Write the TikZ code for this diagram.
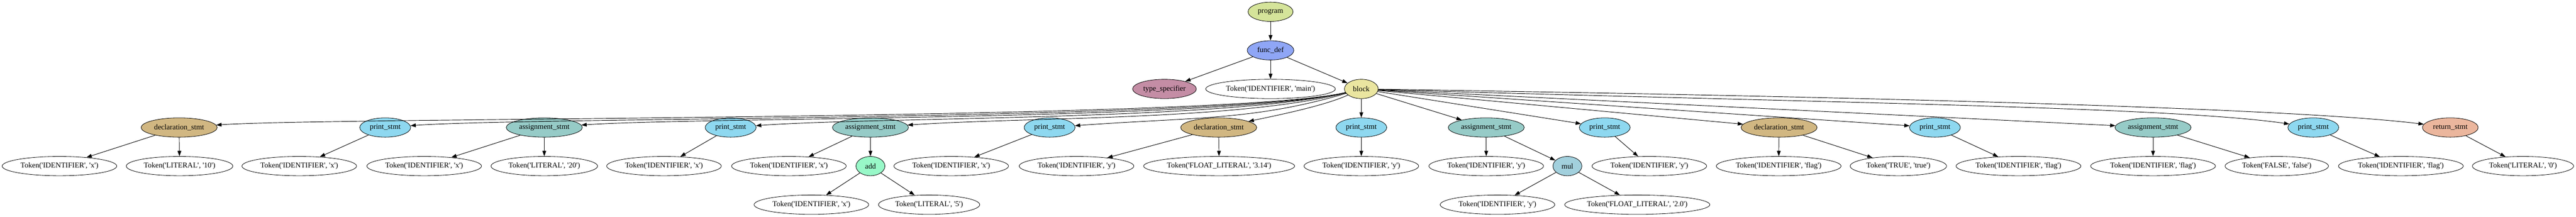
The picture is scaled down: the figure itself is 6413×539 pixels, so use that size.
\documentclass[tikz,border=0pt]{standalone}
\usepackage{fontspec}
\newfontfamily\gvfont{Liberation Serif}[Ligatures=TeXOff]
\usetikzlibrary{shapes.geometric,arrows.meta}
\definecolor{cProg}{HTML}{D5E49A}
\definecolor{cFunc}{HTML}{8FA6F6}
\definecolor{cType}{HTML}{C48DA5}
\definecolor{cBlock}{HTML}{EAE5A0}
\definecolor{cDecl}{HTML}{D1B782}
\definecolor{cPrint}{HTML}{8ED8F0}
\definecolor{cAssign}{HTML}{96CBC7}
\definecolor{cAdd}{HTML}{98F8C8}
\definecolor{cMul}{HTML}{A2D0DD}
\definecolor{cRet}{HTML}{EBB69D}
\newcommand\tx[1]{\makebox[0pt]{#1}}
\begin{document}
\begin{tikzpicture}[x=0.75pt,y=-0.75pt,
  nd/.style={ellipse,draw,line width=0.8pt,minimum height=36pt,inner sep=0pt,
    font=\gvfont\fontsize{14}{16}\selectfont,fill=white},
  tokid/.style={nd,minimum width=214pt},
  tokflag/.style={nd,minimum width=233pt},
  decl/.style={nd,minimum width=142pt,fill=cDecl},
  prt/.style={nd,minimum width=95pt,fill=cPrint},
  asg/.style={nd,minimum width=142pt,fill=cAssign},
  edge/.style={line width=0.9pt,-{Triangle[length=10pt,width=7pt]}}]
\useasboundingbox (0,0) rectangle (6413,539);
\def\ra{29.3}\def\rb{125.3}\def\rc{221.3}\def\rd{317.3}\def\re{413.3}\def\rf{509.3}
% row 0-2
\node[nd,minimum width=84pt,fill=cProg] (prog) at (3163,\ra) {\tx{program}};
\node[nd,minimum width=87pt,fill=cFunc] (fdef) at (3163,\rb) {\tx{func\_def}};
\node[nd,minimum width=119pt,fill=cType] (tspec) at (2899,\rc) {\tx{type\_specifier}};
\node[nd,minimum width=242pt] (tmain) at (3163,\rc) {\tx{Token('IDENTIFIER', 'main')}};
\node[nd,minimum width=63pt,fill=cBlock] (blk) at (3389,\rc) {\tx{block}};
% row 3
\node[decl] (d1) at (446,\rd) {\tx{declaration\_stmt}};
\node[prt] (p1) at (959,\rd) {\tx{print\_stmt}};
\node[asg] (a1) at (1355,\rd) {\tx{assignment\_stmt}};
\node[prt] (p2) at (1819,\rd) {\tx{print\_stmt}};
\node[asg] (a2) at (2167,\rd) {\tx{assignment\_stmt}};
\node[prt] (p3) at (2613,\rd) {\tx{print\_stmt}};
\node[decl] (d2) at (3034,\rd) {\tx{declaration\_stmt}};
\node[prt] (p4) at (3389,\rd) {\tx{print\_stmt}};
\node[asg] (a3) at (3700,\rd) {\tx{assignment\_stmt}};
\node[prt] (p5) at (3995,\rd) {\tx{print\_stmt}};
\node[decl] (d3) at (4429,\rd) {\tx{declaration\_stmt}};
\node[prt] (p6) at (4817,\rd) {\tx{print\_stmt}};
\node[asg] (a4) at (5360,\rd) {\tx{assignment\_stmt}};
\node[prt] (p7) at (5759,\rd) {\tx{print\_stmt}};
\node[nd,minimum width=104pt,fill=cRet] (ret) at (6100,\rd) {\tx{return\_stmt}};
% row 4
\node[tokid] (t1) at (148,\re) {\tx{Token('IDENTIFIER', 'x')}};
\node[nd,minimum width=199pt] (t2) at (447,\re) {\tx{Token('LITERAL', '10')}};
\node[tokid] (t3) at (745,\re) {\tx{Token('IDENTIFIER', 'x')}};
\node[tokid] (t4) at (1056,\re) {\tx{Token('IDENTIFIER', 'x')}};
\node[nd,minimum width=199pt] (t5) at (1355,\re) {\tx{Token('LITERAL', '20')}};
\node[tokid] (t6) at (1653,\re) {\tx{Token('IDENTIFIER', 'x')}};
\node[tokid] (t7) at (1964,\re) {\tx{Token('IDENTIFIER', 'x')}};
\node[nd,minimum width=54pt,fill=cAdd] (add) at (2167,\re) {\tx{add}};
\node[tokid] (t8) at (2368,\re) {\tx{Token('IDENTIFIER', 'x')}};
\node[tokid] (t9) at (2680,\re) {\tx{Token('IDENTIFIER', 'y')}};
\node[nd,minimum width=282pt] (t10) at (3035,\re) {\tx{Token('FLOAT\_LITERAL', '3.14')}};
\node[tokid] (t11) at (3389,\re) {\tx{Token('IDENTIFIER', 'y')}};
\node[tokid] (t12) at (3700,\re) {\tx{Token('IDENTIFIER', 'y')}};
\node[nd,minimum width=54pt,fill=cMul] (mul) at (3902,\re) {\tx{mul}};
\node[tokid] (t13) at (4106,\re) {\tx{Token('IDENTIFIER', 'y')}};
\node[tokflag] (t14) at (4428,\re) {\tx{Token('IDENTIFIER', 'flag')}};
\node[nd,minimum width=180pt] (t15) at (4726,\re) {\tx{Token('TRUE', 'true')}};
\node[tokflag] (t16) at (5025,\re) {\tx{Token('IDENTIFIER', 'flag')}};
\node[tokflag] (t17) at (5360,\re) {\tx{Token('IDENTIFIER', 'flag')}};
\node[nd,minimum width=193pt] (t18) at (5668,\re) {\tx{Token('FALSE', 'false')}};
\node[tokflag] (t19) at (5977,\re) {\tx{Token('IDENTIFIER', 'flag')}};
\node[nd,minimum width=189pt] (t20) at (6281,\re) {\tx{Token('LITERAL', '0')}};
% row 5
\node[tokid] (t21) at (2020,\rf) {\tx{Token('IDENTIFIER', 'x')}};
\node[nd,minimum width=189pt] (t22) at (2313,\rf) {\tx{Token('LITERAL', '5')}};
\node[tokid] (t23) at (3728,\rf) {\tx{Token('IDENTIFIER', 'y')}};
\node[nd,minimum width=271pt] (t24) at (4076,\rf) {\tx{Token('FLOAT\_LITERAL', '2.0')}};
% edges top
\draw[edge] (prog) -- (fdef);
\draw[edge] (fdef) -- (tspec);
\draw[edge] (fdef) -- (tmain);
\draw[edge] (fdef) -- (blk);
% block to left children
\draw[edge] (blk) .. controls (3050,300) and (841,291) .. (d1);
\draw[edge] (blk) .. controls (3050,300) and (1322,291) .. (p1);
\draw[edge] (blk) .. controls (3050,300) and (1749,291) .. (a1);
\draw[edge] (blk) .. controls (3050,300) and (2182,291) .. (p2);
\draw[edge] (blk) .. controls (3080,300) and (2564,291) .. (a2);
\draw[edge] (blk) .. controls (3120,300) and (2978,291) .. (p3);
\draw[edge] (blk) .. controls (3300,262) and (3190,285) .. (d2);
% block to right children
\draw[edge] (blk) -- (p4);
\draw[edge] (blk) -- (a3);
\draw[edge] (blk) -- (p5);
\draw[edge] (blk) -- (d3);
\draw[edge] (blk) -- (p6);
\draw[edge] (blk) -- (a4);
\draw[edge] (blk) .. controls (4500,255) and (5400,265) .. (p7);
\draw[edge] (blk) .. controls (4600,240) and (5700,268) .. (ret);
% statements to tokens
\draw[edge] (d1) -- (t1);
\draw[edge] (d1) -- (t2);
\draw[edge] (p1) -- (t3);
\draw[edge] (a1) -- (t4);
\draw[edge] (a1) -- (t5);
\draw[edge] (p2) -- (t6);
\draw[edge] (a2) -- (t7);
\draw[edge] (a2) -- (add);
\draw[edge] (p3) -- (t8);
\draw[edge] (d2) -- (t9);
\draw[edge] (d2) -- (t10);
\draw[edge] (p4) -- (t11);
\draw[edge] (a3) -- (t12);
\draw[edge] (a3) -- (mul);
\draw[edge] (p5) -- (t13);
\draw[edge] (d3) -- (t14);
\draw[edge] (d3) -- (t15);
\draw[edge] (p6) -- (t16);
\draw[edge] (a4) -- (t17);
\draw[edge] (a4) -- (t18);
\draw[edge] (p7) -- (t19);
\draw[edge] (ret) -- (t20);
\draw[edge] (add) -- (t21);
\draw[edge] (add) -- (t22);
\draw[edge] (mul) -- (t23);
\draw[edge] (mul) -- (t24);
\end{tikzpicture}
\end{document}
